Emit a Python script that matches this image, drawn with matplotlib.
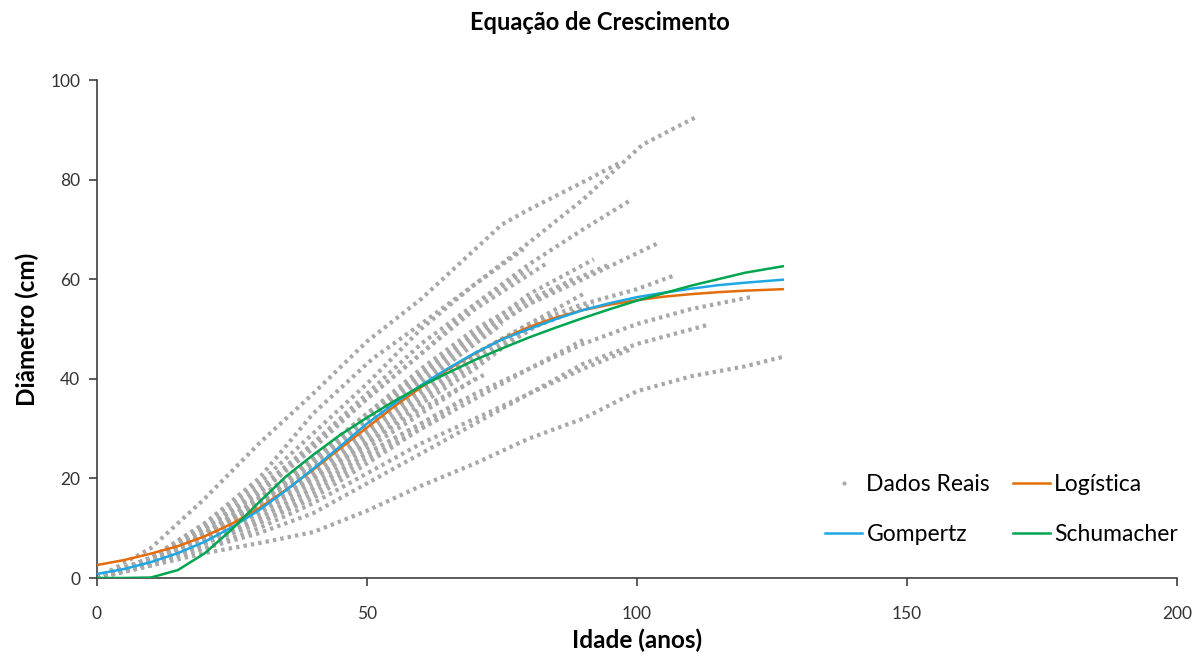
import matplotlib.pyplot as plt
from matplotlib.lines import Line2D

plt.rcParams['font.family'] = ['Lato', 'DejaVu Sans']

# medições reais (idade em anos, diâmetro em cm) de cada árvore
idades_arvores = [
    [0, 10, 20, 30, 40, 50, 60, 70, 75, 80, 90, 97],
    [0, 10, 20, 30, 40, 51, 60, 70, 79, 90, 101, 111],
    [0, 10, 20, 30, 40, 50, 60, 70, 80, 90, 99],
    [0, 10, 20, 30, 40, 50, 60, 70, 80, 90, 104],
    [0, 10, 20, 30, 40, 50, 60, 70, 80, 90, 100, 107],
    [0, 10, 20, 30, 40, 50, 60, 70, 79],
    [0, 10, 20, 30, 40, 50, 60, 70, 83],
    [0, 10, 20, 30, 40, 50, 60, 70, 80, 88],
    [0, 10, 20, 30, 40, 50, 60, 70, 80, 90],
    [0, 10, 20, 30, 40, 50, 60, 70, 85],
    [0, 10, 20, 30, 40, 50, 60, 70, 76],
    [0, 10, 20, 30, 40, 50, 60, 70, 80, 90],
    [0, 10, 20, 30, 40, 50, 60, 70, 80, 90, 99],
    [0, 10, 20, 30, 40, 50, 60, 70],
    [0, 10, 20, 30, 40, 50, 60, 70, 80, 95],
    [0, 10, 20, 30, 40, 50, 60, 70, 80, 92],
    [0, 10, 20, 30, 40, 50, 60, 70, 80],
    [0, 10, 20, 30, 40, 50, 60, 70, 80, 90, 100, 113],
    [0, 10, 20, 30, 40, 50, 60, 70, 80, 90, 100, 110, 121],
    [0, 10, 20, 30, 40, 50, 60, 70, 80, 90, 100, 110, 120, 127],
    [0, 10, 20, 30, 40, 50, 60, 70, 75],
    [0, 10, 20, 30, 40, 50, 60, 68],
    [0, 10, 20, 30, 40, 50, 60, 70, 80, 92],
    [0, 10, 20, 30, 40, 50, 60, 65],
    [0, 10, 20, 30, 40, 50, 60, 72],
]
diametros_arvores = [
    [0, 6, 16, 27, 37, 47.5, 56, 66, 71, 74, 79.5, 83.5],
    [0, 4, 11, 20, 33, 44, 51, 59, 66.5, 76, 87, 92.6],
    [0, 4, 10, 17, 26, 36, 45, 55, 63, 70, 76],
    [0, 3, 9, 16, 24, 32, 40, 48, 55, 60, 67.3],
    [0, 3, 8, 14, 22, 30, 38, 45, 51, 55, 58, 60.8],
    [0, 4, 11, 19, 29, 39, 50, 59, 66],
    [0, 4, 10, 17, 27, 36, 45, 54, 63],
    [0, 3, 9, 16, 24, 33, 41, 49, 55, 60],
    [0, 3, 8, 15, 22, 30, 38, 45, 51, 57],
    [0, 3, 8, 14, 21, 28, 36, 43, 53],
    [0, 3, 8, 13, 20, 27, 35, 42, 47],
    [0, 3, 7, 12, 18, 25, 31, 37, 42, 47.8],
    [0, 2.5, 6, 10, 15, 21, 27, 32, 37, 42, 46],
    [0, 3, 8, 13, 19, 26, 33, 40],
    [0, 3.5, 9, 16, 24, 33, 42, 50, 56, 63],
    [0, 3, 8, 14, 21, 29, 37, 44, 50, 55],
    [0, 4, 10, 18, 27, 37, 47, 55, 62],
    [0, 3, 6, 9, 13, 19, 25, 31, 37, 43, 47, 50.8],
    [0, 3, 7, 11, 16, 23, 30, 36, 42, 47, 51, 54, 56.4],
    [0, 2.5, 5, 7, 9.2, 13.5, 18.5, 23, 28, 32, 37.5, 40.5, 42.5, 44.4],
    [0, 3.5, 9, 15, 23, 31, 39, 47, 51],
    [0, 3, 7, 12, 18, 25, 31, 36],
    [0, 4, 9, 15, 23, 32, 41, 49, 57, 64],
    [0, 3, 7, 11, 17, 24, 30, 33],
    [0, 3.5, 8.5, 14, 20, 27, 34, 41],
]

# curvas ajustadas
idade_modelo = [0, 5, 10, 15, 20, 25, 30, 35, 40, 45, 50, 55, 60, 65,
                70, 75, 80, 85, 90, 95, 100, 105, 110, 115, 120, 127]
logistica = [2.6, 3.6, 4.9, 6.4, 8.4, 10.9, 14.0, 17.7, 21.7, 26.0, 30.2,
             34.4, 38.3, 41.9, 45.1, 48.0, 50.4, 52.3, 53.8, 54.9, 55.8,
             56.5, 57.0, 57.4, 57.7, 58.0]
gompertz = [0.8, 1.8, 3.2, 5.0, 7.3, 10.2, 13.6, 17.6, 21.9, 26.4, 31.0,
            35.0, 38.7, 42.1, 45.2, 47.9, 50.0, 52.0, 53.8, 55.2, 56.4,
            57.3, 58.1, 58.8, 59.3, 59.9]
schumacher = [0, 0, 0.1, 1.6, 5.0, 9.8, 15.2, 20.4, 24.7, 28.7, 32.2, 35.5,
              38.5, 41.2, 43.8, 46.1, 48.3, 50.3, 52.2, 54.0, 55.7, 57.2,
              58.7, 60.0, 61.3, 62.6]

cinza = '#a8a8a8'
cor_log = '#e46c0a'
cor_gom = '#1ea7e4'
cor_sch = '#00a550'

fig = plt.figure(figsize=(12.03, 6.56), dpi=100)
ax = fig.add_axes([0.0806, 0.1189, 0.8978, 0.7591])

for idade, diam in zip(idades_arvores, diametros_arvores):
    ax.plot(idade, diam, color=cinza, lw=3, ls=(0, (0.8, 1.0)), zorder=2)

ax.plot(idade_modelo, logistica, color=cor_log, lw=1.8, zorder=3)
ax.plot(idade_modelo, gompertz, color=cor_gom, lw=1.8, zorder=3)
ax.plot(idade_modelo, schumacher, color=cor_sch, lw=1.8, zorder=4)

ax.set_xlim(0, 200)
ax.set_ylim(0, 100)
ax.set_xticks([0, 50, 100, 150, 200])
ax.set_yticks([0, 20, 40, 60, 80, 100])
for s in ['top', 'right']:
    ax.spines[s].set_visible(False)
for s in ['left', 'bottom']:
    ax.spines[s].set_color('#404040')
    ax.spines[s].set_linewidth(1.2)
ax.tick_params(direction='out', length=6, width=1.2, color='#404040',
               labelsize=12.5, labelcolor='#333333', pad=6)
ax.tick_params(axis='x', pad=14)

fig.text(0.4988, 1 - 22 / 656, 'Equação de Crescimento', fontsize=17,
         fontweight='bold', ha='center', va='center')
ax.set_xlabel('Idade (anos)', fontsize=17.5, fontweight='bold', labelpad=5)
ax.set_ylabel('Diâmetro (cm)', fontsize=17.5, fontweight='bold', labelpad=8)

handles = [
    Line2D([], [], ls='none', marker='.', ms=4, color=cinza),
    Line2D([], [], color=cor_gom, lw=1.8),
    Line2D([], [], color=cor_log, lw=1.8),
    Line2D([], [], color=cor_sch, lw=1.8),
]
labels = ['Dados Reais', 'Gompertz', 'Logística', 'Schumacher']
ax.legend(handles, labels, ncol=2, frameon=False, fontsize=16.5,
          loc='lower right', bbox_to_anchor=(1.02, 0.025),
          handlelength=1.6, handletextpad=0.2, columnspacing=1.0,
          labelspacing=1.25)

fig.savefig('out.png', dpi=100)
